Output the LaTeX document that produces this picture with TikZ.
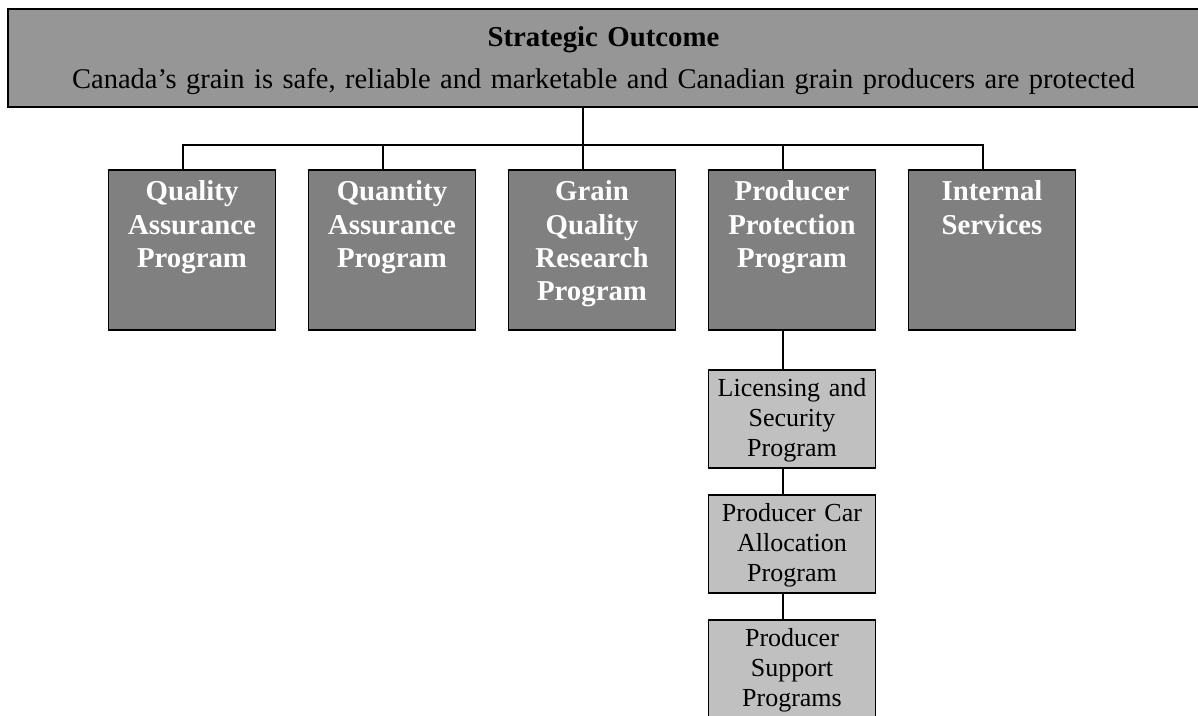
\documentclass[tikz,border=0pt]{standalone}
\usepackage{fontspec}
\setmainfont{Liberation Serif}
\usetikzlibrary{positioning}
\definecolor{outcomegray}{HTML}{969696}
\definecolor{programgray}{HTML}{808080}
\definecolor{subgray}{HTML}{C0C0C0}
\tikzset{
	every picture/.style={x=1pt, y=-1pt, line width=1.8pt},
	outcome/.style={draw, fill=outcomegray, anchor=north, minimum width=1191pt, text width=1180pt, align=center, inner sep=0pt, text height=38pt, text depth=60pt, font=\fontsize{28.5}{42}\selectfont},
	program/.style={draw, fill=programgray, text=white, anchor=north, minimum width=167pt, text width=160pt, align=center, inner sep=0pt, text height=31pt, text depth=129pt, font=\bfseries\fontsize{28.8}{33.3}\selectfont},
	subprogram/.style={draw, fill=subgray, anchor=north, minimum width=167pt, text width=164pt, align=center, inner sep=0pt, text height=27pt, text depth=71.2pt, font=\fontsize{26}{30}\selectfont},
	stem/.style={xshift=-9pt},
}

\begin{document}
\begin{tikzpicture}
	\useasboundingbox (0,0) rectangle (1198,715);
	\node[outcome] (SO) at (603.5,8) {{\bfseries\fontsize{28.8}{42}\selectfont Strategic Outcome}\\ Canada’s grain is safe, reliable and marketable and Canadian grain producers are protected};
	\coordinate (bus) at (0,145);

	\node[program] (QAP) at (192,169) {Quality\\ Assurance\\ Program};
	\node[program, right=31.2pt of QAP] (QNP) {Quantity\\ Assurance\\ Program};
	\node[program, right=31.2pt of QNP] (GQRP) {Grain\\ Quality\\ Research\\ Program};
	\node[program, right=31.2pt of GQRP] (PPP) {Producer\\ Protection\\ Program};
	\node[program, right=31.2pt of PPP] (IS) {Internal\\ Services};

	\node[subprogram, below=38pt of PPP] (LSP) {Licensing and\\ Security\\ Program};
	\node[subprogram, below=25pt of LSP] (PCAP) {Producer Car\\ Allocation\\ Program};
	\node[subprogram, below=25pt of PCAP] (PSP) {Producer\\ Support\\ Programs};

	\draw ([stem]GQRP.north) -- ([stem]GQRP.north |- SO.south);
	\draw ([stem]QAP.north) |- ([stem]IS.north |- bus) -- ([stem]IS.north);
	\foreach \p in {QNP, PPP}
		\draw ([stem]\p.north) -- ([stem]\p.north |- bus);

	\draw ([stem]PPP.south) -- ([stem]LSP.north);
	\draw ([stem]LSP.south) -- ([stem]PCAP.north);
	\draw ([stem]PCAP.south) -- ([stem]PSP.north);
\end{tikzpicture}
\end{document}
